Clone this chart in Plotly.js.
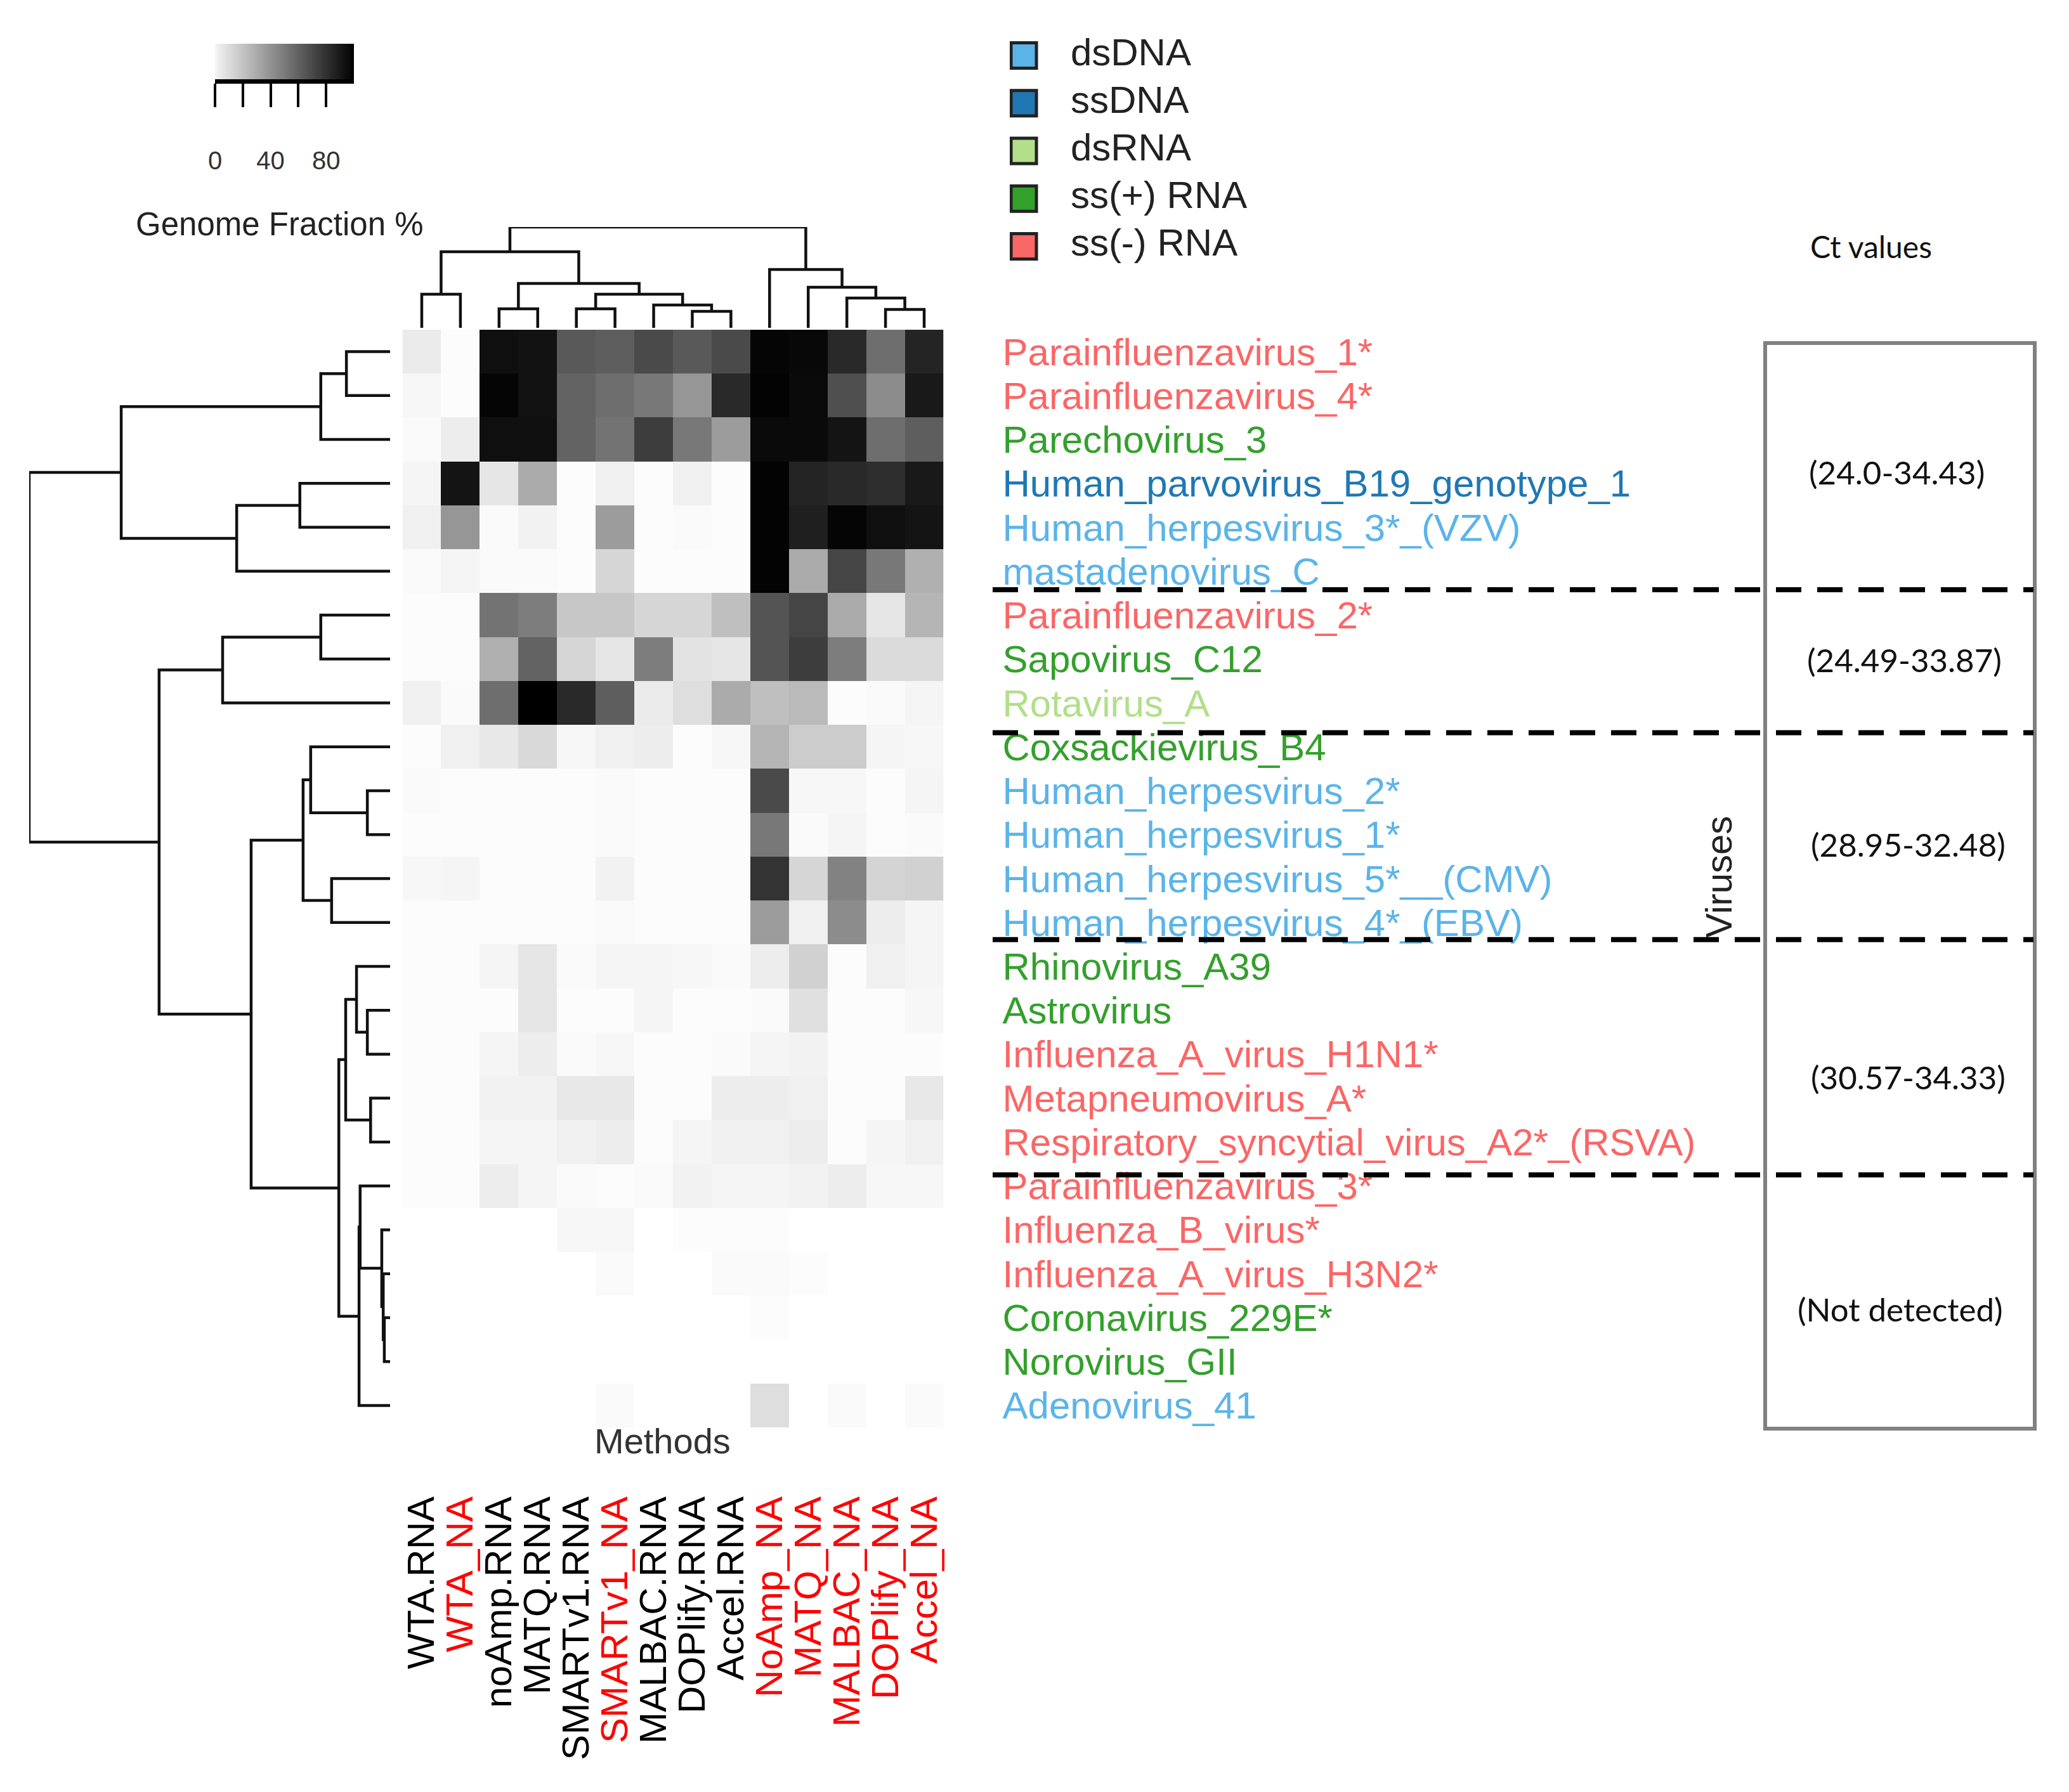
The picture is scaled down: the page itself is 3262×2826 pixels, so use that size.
<!DOCTYPE html>
<html><head><meta charset="utf-8">
<script src="https://cdn.plot.ly/plotly-3.0.1.min.js"></script>
<style>html,body{margin:0;padding:0;background:#fff}</style>
</head><body>
<div id="chart" style="width:3262px;height:2826px"></div>
<script>
// ---------------- data ----------------
const methods = ['WTA.RNA','WTA_NA','noAmp.RNA','MATQ.RNA','SMARTv1.RNA','SMARTv1_NA','MALBAC.RNA','DOPlify.RNA','Accel.RNA','NoAmp_NA','MATQ_NA','MALBAC_NA','DOPlify_NA','Accel_NA'];
const methodIsNA = [false,true,false,false,false,true,false,false,false,true,true,true,true,true];

const viruses = ['Parainfluenzavirus_1*','Parainfluenzavirus_4*','Parechovirus_3','Human_parvovirus_B19_genotype_1','Human_herpesvirus_3*_(VZV)','mastadenovirus_C','Parainfluenzavirus_2*','Sapovirus_C12','Rotavirus_A','Coxsackievirus_B4','Human_herpesvirus_2*','Human_herpesvirus_1*','Human_herpesvirus_5*__(CMV)','Human_herpesvirus_4*_(EBV)','Rhinovirus_A39','Astrovirus','Influenza_A_virus_H1N1*','Metapneumovirus_A*','Respiratory_syncytial_virus_A2*_(RSVA)','Parainfluenzavirus_3*','Influenza_B_virus*','Influenza_A_virus_H3N2*','Coronavirus_229E*','Norovirus_GII','Adenovirus_41'];
const virusType = ['ss(-) RNA','ss(-) RNA','ss(+) RNA','ssDNA','dsDNA','dsDNA','ss(-) RNA','ss(+) RNA','dsRNA','ss(+) RNA','dsDNA','dsDNA','dsDNA','dsDNA','ss(+) RNA','ss(+) RNA','ss(-) RNA','ss(-) RNA','ss(-) RNA','ss(-) RNA','ss(-) RNA','ss(-) RNA','ss(+) RNA','ss(+) RNA','dsDNA'];

const typeNames  = ['dsDNA','ssDNA','dsRNA','ss(+) RNA','ss(-) RNA'];
const typeColors = ['#5BB4E8','#1F78B4','#B2DF8A','#33A02C','#FB6666'];

// Genome fraction % (rows = viruses, columns = methods)
const genomeFraction = [
  [8,1,94,93,65,63,71,65,71,98,97,84,57,86],
  [3,1,98,93,61,57,53,41,84,99,96,69,45,90],
  [2,7,94,94,61,55,76,53,39,96,96,92,57,63],
  [4,92,10,33,1,6,1,6,1,99,86,84,82,90],
  [6,41,2,5,1,39,1,2,1,99,88,98,94,92],
  [2,4,2,2,1,16,1,1,1,99,33,73,53,31],
  [1,1,55,51,22,22,16,16,25,67,73,33,10,29],
  [1,1,31,61,16,10,51,11,10,67,76,51,14,14],
  [6,2,57,100,84,63,8,13,33,25,27,1,2,4],
  [1,6,9,15,3,6,7,1,3,29,20,20,4,3],
  [2,1,1,1,1,2,1,1,1,71,3,3,1,4],
  [1,1,1,1,1,2,1,1,1,53,2,4,1,2],
  [3,4,1,1,1,5,1,1,1,80,16,49,17,18],
  [1,1,1,1,1,2,1,1,1,39,6,45,7,4],
  [1,1,4,10,2,4,4,3,2,7,18,1,6,4],
  [1,1,1,10,1,1,4,1,1,2,12,1,1,3],
  [1,1,4,7,2,3,1,1,2,4,5,1,1,1],
  [1,1,5,5,9,9,1,1,7,7,6,1,1,9],
  [1,1,4,4,6,7,1,4,6,6,7,1,4,6],
  [1,1,7,4,2,1,2,5,4,4,5,7,3,3],
  [0,0,0,0,3,3,0,1,1,1,0,0,0,0],
  [0,0,0,0,0,2,0,0,2,2,1,0,0,0],
  [0,0,0,0,0,0,0,0,0,1,0,0,0,0],
  [0,0,0,0,0,0,0,0,0,0,0,0,0,0],
  [0,0,0,0,0,2,0,0,0,13,0,2,0,2]
];

// hclust-style merges (negative = leaf, 1-based; positive = earlier merge) and heights
const colMerge  = [[-1,-2],[-3,-4],[-5,-6],[-8,-9],[-7,4],[3,5],[2,6],[1,7],[-13,-14],[-12,9],[-11,10],[-10,11],[8,12]];
const colHeight = [33.3,18.9,18.9,16.4,22.6,33.3,44.0,75.5,18.2,29.6,40.3,57.9,100];
const rowMerge  = [[-1,-2],[1,-3],[-4,-5],[3,-6],[2,4],[-7,-8],[6,-9],[-11,-12],[-10,8],[-13,-14],[9,10],[-16,-17],[-15,12],[-18,-19],[13,14],[-23,-24],[-22,16],[-21,17],[-20,18],[19,-25],[15,20],[11,21],[7,22],[5,23]];
const rowHeight = [12.1,19.2,25.0,42.5,74.5,19.2,46.4,6.3,22.0,16.2,24.1,6.3,9.3,5.4,12.3,1.6,1.9,2.3,8.3,8.6,14.2,38.5,64.0,100];

const colorbarTickVals = [0,20,40,60,80];
const colorbarTickText = ['0','','40','','80'];

const ctTitle = 'Ct values';
const ctGroups = ['(24.0-34.43)','(24.49-33.87)','(28.95-32.48)','(30.57-34.33)','(Not detected)'];

// ---------------- helpers ----------------
function dendro(merge, height) {
  const pos = [], hh = [];
  const P = k => k < 0 ? (-k - 1) : pos[k - 1];
  const H = k => k < 0 ? 0 : hh[k - 1];
  const a = [], b = [];   // a = leaf-position coordinate, b = height coordinate
  merge.forEach((m, i) => {
    const h = height[i];
    const pa = P(m[0]), pb = P(m[1]);
    a.push(pa, pa, pb, pb, null);
    b.push(H(m[0]), h, h, H(m[1]), null);
    pos.push((pa + pb) / 2); hh.push(h);
  });
  return {a, b};
}
const W = 3262, Hh = 2826;
const fx = px => px / W;
const fy = py => 1 - py / Hh;

const FONT = 'Liberation Sans, Arial, sans-serif';
const typeColorOf = t => typeColors[typeNames.indexOf(t)];

const colD = dendro(colMerge, colHeight);
const rowD = dendro(rowMerge, rowHeight);

const idxCols = methods.map((_, i) => i);
const idxRows = viruses.map((_, i) => i);

// colorbar gradient samples along the scale
const cbX = []; for (let v = 0; v <= 100; v += 0.5) cbX.push(v);

const traces = [
  {
    type: 'heatmap', x: idxCols, y: idxRows, z: genomeFraction,
    colorscale: [[0,'#ffffff'],[1,'#000000']], zmin: 0, zmax: 100,
    showscale: false, xaxis: 'x', yaxis: 'y', hoverinfo: 'skip'
  },
  {
    type: 'scatter', mode: 'lines', x: colD.a, y: colD.b, xaxis: 'x2', yaxis: 'y2',
    line: {color: '#111', width: 4.5}, hoverinfo: 'skip'
  },
  {
    type: 'scatter', mode: 'lines', x: rowD.b, y: rowD.a, xaxis: 'x3', yaxis: 'y3',
    line: {color: '#111', width: 4.5}, hoverinfo: 'skip'
  },
  {
    type: 'heatmap', x: cbX, y: [0], z: [cbX],
    colorscale: [[0,'#f4f4f4'],[1,'#000000']], zmin: 0, zmax: 100,
    showscale: false, xaxis: 'x4', yaxis: 'y4', hoverinfo: 'skip'
  },
  {
    type: 'scatter', mode: 'markers', x: typeNames.map(() => 0.054), y: typeNames.map((_, i) => i),
    xaxis: 'x5', yaxis: 'y5',
    marker: {symbol: 'square', size: 40, color: typeColors, line: {color: '#222', width: 5}},
    hoverinfo: 'skip'
  },
  {
    type: 'scatter', mode: 'text', x: typeNames.map(() => 0.235), y: typeNames.map((_, i) => i),
    text: typeNames, textposition: 'middle right', xaxis: 'x5', yaxis: 'y5',
    textfont: {family: FONT, size: 60, color: '#222'}, hoverinfo: 'skip'
  }
];

const hmDomX = [fx(634.5), fx(1487.5)];
const hmDomY = [fy(2251), fy(520)];

const dashLines = [5.42, 8.68, 13.39, 18.75].map(v => ({
  type: 'line', xref: 'paper', yref: 'y', x0: fx(1565), x1: fx(3206), y0: v, y1: v,
  line: {color: '#000', width: 8, dash: '40px,25px'}, layer: 'above'
}));

const ctPos = [[2990,745],[3002,1040],[3008,1331],[3008,1698],[2996,2064]];

const layout = {
  width: W, height: Hh, margin: {l: 0, r: 0, t: 0, b: 0},
  paper_bgcolor: '#fff', plot_bgcolor: 'rgba(0,0,0,0)', showlegend: false,
  xaxis: {
    domain: hmDomX, range: [-0.5, 13.5], anchor: 'y',
    tickmode: 'array', tickvals: idxCols,
    ticktext: methods.map((m, i) => `<span style="color:${methodIsNA[i] ? '#FF0000' : '#000000'}">${m}</span>`),
    tickangle: -90, ticks: 'outside', ticklen: 84, tickcolor: 'rgba(0,0,0,0)',
    tickfont: {family: FONT, size: 60}, showgrid: false, zeroline: false, showline: false, automargin: false
  },
  yaxis: {
    domain: hmDomY, range: [24.5, -0.5], anchor: 'x', side: 'right',
    tickmode: 'array', tickvals: idxRows,
    ticktext: viruses.map((v, i) => `<span style="color:${typeColorOf(virusType[i])}">${v}</span>`),
    ticks: 'outside', ticklen: 80, tickcolor: 'rgba(0,0,0,0)',
    tickfont: {family: FONT, size: 60}, showgrid: false, zeroline: false, showline: false, automargin: false
  },
  xaxis2: {domain: hmDomX, range: [-0.5, 13.5], anchor: 'y2', visible: false},
  yaxis2: {domain: [fy(517), fy(358)], range: [0, 100], anchor: 'x2', visible: false},
  xaxis3: {domain: [fx(46), fx(615)], range: [100, 0], anchor: 'y3', visible: false},
  yaxis3: {domain: hmDomY, range: [24.5, -0.5], anchor: 'x3', visible: false},
  xaxis4: {
    domain: [fx(339), fx(558)], range: [0, 100], anchor: 'y4',
    tickmode: 'array', tickvals: colorbarTickVals, ticktext: colorbarTickText,
    ticks: 'outside', ticklen: 37, tickwidth: 4, tickcolor: '#000',
    showline: true, linewidth: 7, linecolor: '#000', ticklabelstandoff: 50,
    tickfont: {family: FONT, size: 40, color: '#333'}, showgrid: false, zeroline: false, automargin: false
  },
  yaxis4: {domain: [fy(125), fy(69)], range: [-0.5, 0.5], anchor: 'x4', visible: false},
  xaxis5: {domain: [fx(1592), fx(2000)], range: [0, 1], anchor: 'y5', visible: false},
  yaxis5: {domain: [fy(426), fy(50)], range: [4.5, -0.5], anchor: 'x5', visible: false},
  shapes: [
    {type: 'rect', xref: 'paper', yref: 'paper', x0: fx(2783), x1: fx(3208), y0: fy(2253), y1: fy(541),
     line: {color: '#808080', width: 6}, fillcolor: 'rgba(0,0,0,0)', layer: 'above'},
    ...dashLines
  ],
  annotations: [
    {text: 'Genome Fraction %', xref: 'paper', yref: 'paper', x: fx(441), y: fy(354), showarrow: false,
     xanchor: 'center', yanchor: 'middle', font: {family: FONT, size: 51, color: '#222'}},
    {text: 'Methods', xref: 'paper', yref: 'paper', x: fx(1044), y: fy(2272), showarrow: false,
     xanchor: 'center', yanchor: 'middle', font: {family: FONT, size: 56, color: '#333'}},
    {text: 'Viruses', xref: 'paper', yref: 'paper', x: fx(2709), y: fy(1383), showarrow: false, textangle: -90,
     xanchor: 'center', yanchor: 'middle', font: {family: FONT, size: 58, color: '#222'}},
    {text: ctTitle, xref: 'paper', yref: 'paper', x: fx(2950), y: fy(389), showarrow: false,
     xanchor: 'center', yanchor: 'middle', font: {family: 'Lato, Open Sans, sans-serif', size: 48, color: '#111'}},
    ...ctGroups.map((t, i) => ({
      text: t, xref: 'paper', yref: 'paper', x: fx(ctPos[i][0]), y: fy(ctPos[i][1]), showarrow: false,
      xanchor: 'center', yanchor: 'middle', font: {family: 'Lato, Open Sans, sans-serif', size: 51, color: '#111'}
    }))
  ]
};

Plotly.newPlot('chart', traces, layout, {displayModeBar: false, responsive: false});
</script>
</body></html>
